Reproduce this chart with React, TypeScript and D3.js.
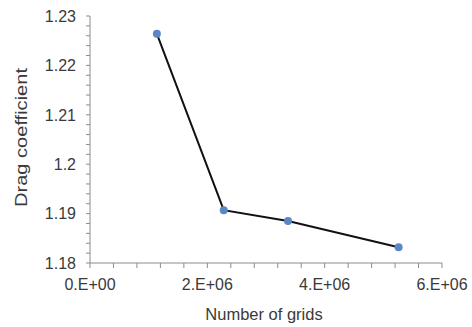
import React from 'react';
import * as d3 from 'd3';

// grid study data
const grids = [1.14e6, 2.28e6, 3.375e6, 5.26e6];
const drag = [1.2264, 1.1907, 1.1885, 1.1832];
const xTicks = [0, 2e6, 4e6, 6e6];
const xTickLabels = ['0.E+00', '2.E+06', '4.E+06', '6.E+06'];
const yTicks = [1.18, 1.19, 1.2, 1.21, 1.22, 1.23];
const yTickLabels = ['1.18', '1.19', '1.2', '1.21', '1.22', '1.23'];

const W = 472;
const H = 327;
const m = {left: 90, right: 30, top: 16, bottom: 64};
const axisColor = '#8c8c8c';
const textColor = '#3a3a3a';
const font = '"Liberation Sans", Arial, sans-serif';

export default function App() {
    const x = d3.scaleLinear().domain([0, 6e6]).range([m.left, W - m.right]);
    const y = d3.scaleLinear().domain([1.18, 1.23]).range([H - m.bottom, m.top]);

    const pts = grids.map((g, i) => ({g, c: drag[i]}));
    const line = d3.line<{g: number, c: number}>().x(d => x(d.g)).y(d => y(d.c));

    // minor ticks: 5 per major interval
    const xMinor = d3.range(0, 6e6 + 1, 4e5);
    const yMinor = d3.range(0, 26).map(i => 1.18 + i * 0.002);

    const y0 = y(1.18);

    return (
        <svg width={W} height={H} style={{position: 'absolute', left: 0, top: 0, background: '#fff'}}
             fontFamily={font}>
            {/* axes */}
            <line x1={x(0)} x2={x(6e6)} y1={y0} y2={y0} stroke={axisColor} strokeWidth={1}/>
            <line x1={x(0)} x2={x(0)} y1={y0} y2={y(1.23)} stroke={axisColor} strokeWidth={1}/>
            {xMinor.map((t, i) => (
                <line key={'xm' + i} x1={x(t)} x2={x(t)} y1={y0} y2={y0 + 5} stroke={axisColor}/>
            ))}
            {yMinor.map((t, i) => (
                <line key={'ym' + i} x1={x(0) - 4} x2={x(0)} y1={y(t)} y2={y(t)} stroke={axisColor}/>
            ))}
            {xTicks.map((t, i) => (
                <text key={'xt' + i} x={x(t)} y={290} textAnchor="middle" fontSize={16}
                      fill={textColor}>{xTickLabels[i]}</text>
            ))}
            {yTicks.map((t, i) => (
                <text key={'yt' + i} x={x(0) - 14} y={y(t)} dy="0.36em" textAnchor="end" fontSize={16}
                      fill={textColor}>{yTickLabels[i]}</text>
            ))}
            <text x={264} y={320} textAnchor="middle" fontSize={16.5} fill={textColor}>
                Number of grids
            </text>
            <text transform={`translate(27,137.5) rotate(-90)`} textAnchor="middle"
                  fontSize={17} textLength={139} lengthAdjust="spacingAndGlyphs"
                  fill={textColor}>Drag coefficient</text>

            {/* series */}
            <path d={line(pts) || ''} fill="none" stroke="#111" strokeWidth={2}/>
            {pts.map((d, i) => (
                <circle key={'p' + i} cx={x(d.g)} cy={y(d.c)} r={4} fill="#5b87c6"/>
            ))}
        </svg>
    );
}
